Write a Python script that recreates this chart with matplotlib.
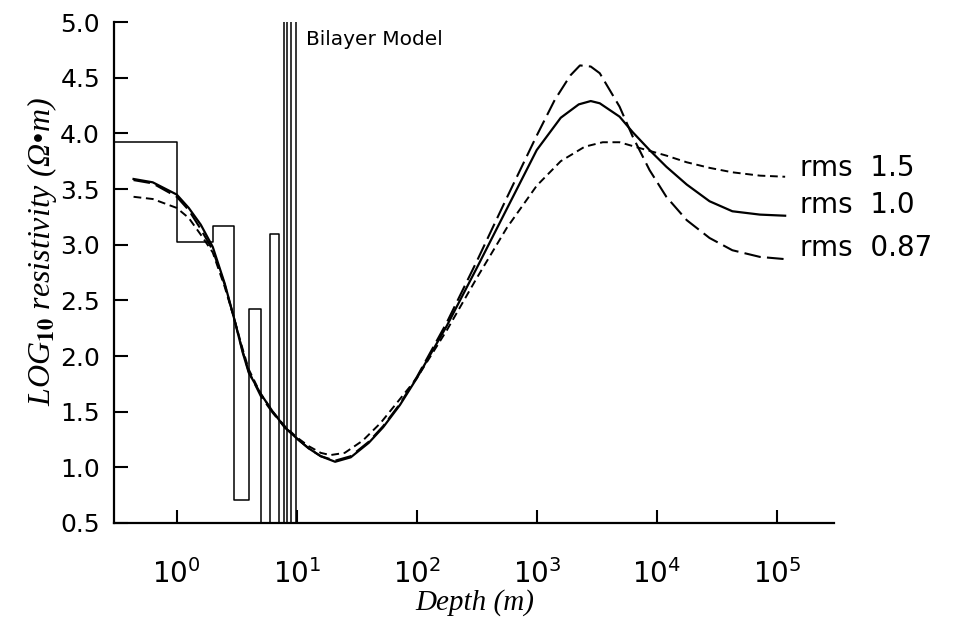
import numpy as np
import matplotlib
matplotlib.use("Agg")
import matplotlib.pyplot as plt
from matplotlib.ticker import NullLocator

# ── Data ──────────────────────────────────────────────────────────────────────

# bilayer (layered) model: layer tops in m and log10 resistivity of each layer
layer_top = [0.3, 1.0, 2.0, 3.0, 4.0, 5.04, 6.0, 7.05, 7.8, 8.3, 8.9, 9.9, 3e5]
layer_res = [3.92, 3.02, 3.17, 0.705, 2.42, -1.0, 3.10, -1.0, 7.0, -1.0, 7.0, -1.0, -1.0]

# smooth models, depth given as log10(m)
rms10_logd = [-0.36, -0.2, 0.0, 0.1, 0.2, 0.3, 0.4, 0.475, 0.55, 0.6, 0.7, 0.8, 0.9,
              1.0, 1.1, 1.2, 1.32, 1.45, 1.6, 1.72, 1.86, 2.0, 2.25, 2.5, 2.75, 3.0,
              3.2, 3.35, 3.45, 3.525, 3.69, 3.8, 3.94, 4.08, 4.25, 4.44, 4.63, 4.86, 5.07]
rms10_res = [3.59, 3.56, 3.45, 3.33, 3.18, 2.98, 2.65, 2.35, 2.03, 1.85, 1.66, 1.50, 1.36,
             1.26, 1.17, 1.10, 1.05, 1.09, 1.22, 1.36, 1.56, 1.80, 2.27, 2.79, 3.32, 3.85,
             4.14, 4.26, 4.29, 4.27, 4.15, 4.01, 3.85, 3.70, 3.54, 3.39, 3.30, 3.27, 3.26]

rms15_logd = [-0.36, -0.2, 0.0, 0.1, 0.2, 0.3, 0.4, 0.475, 0.55, 0.6, 0.7, 0.8, 0.9,
              1.0, 1.1, 1.2, 1.28, 1.4, 1.55, 1.7, 1.85, 2.0, 2.25, 2.5, 2.75, 3.0,
              3.2, 3.4, 3.55, 3.69, 3.85, 4.08, 4.25, 4.44, 4.63, 4.86, 5.07]
rms15_res = [3.43, 3.41, 3.33, 3.24, 3.09, 2.93, 2.62, 2.35, 2.06, 1.88, 1.66, 1.50, 1.37,
             1.27, 1.19, 1.13, 1.11, 1.13, 1.24, 1.40, 1.60, 1.80, 2.23, 2.70, 3.15, 3.53,
             3.75, 3.88, 3.92, 3.92, 3.87, 3.80, 3.74, 3.69, 3.65, 3.62, 3.61]

rms087_logd = [-0.36, -0.2, 0.0, 0.1, 0.2, 0.3, 0.4, 0.475, 0.55, 0.6, 0.7, 0.8, 0.9,
               1.0, 1.1, 1.2, 1.32, 1.45, 1.6, 1.72, 1.86, 2.0, 2.25, 2.5, 2.75, 3.0,
               3.15, 3.28, 3.36, 3.45, 3.525, 3.69, 3.8, 3.94, 4.08, 4.25, 4.44, 4.63,
               4.86, 5.07]
rms087_res = [3.58, 3.55, 3.43, 3.31, 3.14, 2.95, 2.64, 2.35, 2.04, 1.86, 1.64, 1.49, 1.36,
              1.26, 1.17, 1.10, 1.06, 1.10, 1.23, 1.37, 1.57, 1.81, 2.30, 2.85, 3.42, 3.98,
              4.30, 4.52, 4.61, 4.60, 4.54, 4.24, 3.97, 3.67, 3.43, 3.22, 3.06, 2.95,
              2.89, 2.87]

y_ticks = [0.5, 1.0, 1.5, 2.0, 2.5, 3.0, 3.5, 4.0, 4.5, 5.0]
x_ticks = [1e0, 1e1, 1e2, 1e3, 1e4, 1e5]
x_tick_labels = [r"$10^{%d}$" % i for i in range(6)]

# ── Figure ────────────────────────────────────────────────────────────────────

fig = plt.figure(figsize=(9.56, 6.21), dpi=100)
ax = fig.add_axes([114 / 956, 98 / 621, 720 / 956, 501 / 621])

ax.plot(layer_top, layer_res, drawstyle="steps-post", color="black", lw=1.1)

ax.plot(10 ** np.array(rms10_logd), rms10_res, color="black", lw=1.6)
ax.plot(10 ** np.array(rms15_logd), rms15_res, color="black", lw=1.4,
        linestyle=(0, (4, 2.4)))
ax.plot(10 ** np.array(rms087_logd), rms087_res, color="black", lw=1.5,
        linestyle=(0, (8, 3)))

ax.set_xscale("log")
ax.set_xlim(0.3, 3e5)
ax.set_ylim(0.5, 5.0)

ax.set_yticks(y_ticks)
ax.set_yticklabels(["%.1f" % v for v in y_ticks])
ax.set_xticks(x_ticks)
ax.set_xticklabels(x_tick_labels)
ax.xaxis.set_minor_locator(NullLocator())

for side in ("top", "right"):
    ax.spines[side].set_visible(False)
for side in ("left", "bottom"):
    ax.spines[side].set_linewidth(1.6)

ax.tick_params(axis="y", direction="in", length=10, width=1.5, labelsize=18, pad=10)
ax.tick_params(axis="x", direction="in", length=9.5, width=1.5, labelsize=20, pad=26)

# curve labels
ax.text(1.55e5, 3.69, "rms  1.5", fontsize=20, va="center", ha="left")
ax.text(1.55e5, 3.36, "rms  1.0", fontsize=20, va="center", ha="left")
ax.text(1.55e5, 2.97, "rms  0.87", fontsize=20, va="center", ha="left")
ax.text(11.9, 4.84, "Bilayer Model", fontsize=14.5, va="center", ha="left")

# axis titles
fig.text(42 / 956, 1 - 252 / 621, r"LOG$_{\mathbf{10}}$ resistivity (Ω•m)",
         rotation=90, ha="center", va="center", fontsize=23,
         family="Liberation Serif", style="italic", math_fontfamily="stix")
fig.text(475 / 956, 1 - 603 / 621, "Depth (m)", ha="center", va="center",
         fontsize=21, family="Liberation Serif", style="italic")

fig.savefig("out.png", dpi=100)
